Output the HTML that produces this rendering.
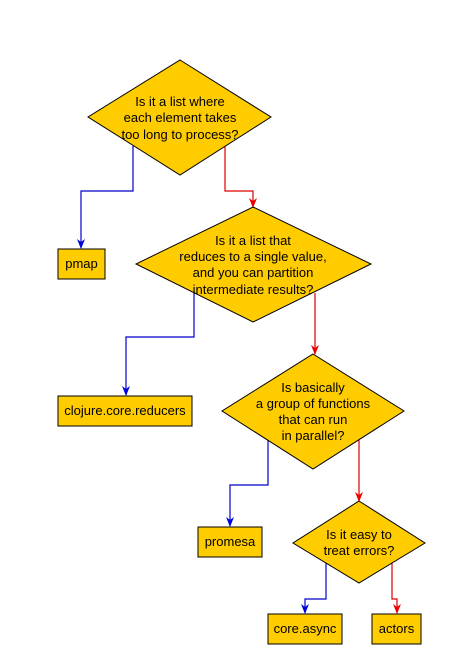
<!DOCTYPE html>
<html><head><style>html,body{margin:0;padding:0;background:#fff;width:475px;height:669px;overflow:hidden}</style></head>
<body>
<svg width="475" height="669" xmlns="http://www.w3.org/2000/svg" font-family="Liberation Sans, DejaVu Sans, sans-serif" font-size="13" text-anchor="middle">
<defs>
<marker id="b" markerWidth="8" markerHeight="10" refX="4" refY="9" markerUnits="userSpaceOnUse" viewBox="0 0 8 10"><path d="M0,0 L4,3 L8,0 L4,10 Z" fill="#0000dd"/></marker>
<marker id="r" markerWidth="8" markerHeight="10" refX="4" refY="9" markerUnits="userSpaceOnUse" viewBox="0 0 8 10"><path d="M0,0 L4,3 L8,0 L4,10 Z" fill="#ee0000"/></marker>
</defs>
<g fill="none" stroke-width="1.2">
<path d="M133,146 V191 H81 V248" stroke="#0000cc" marker-end="url(#b)"/>
<path d="M225,146 V191 H253 V207" stroke="#dd0000" marker-end="url(#r)"/>
<path d="M194,293 V337 H126 V395" stroke="#0000cc" marker-end="url(#b)"/>
<path d="M315,293 V354" stroke="#dd0000" marker-end="url(#r)"/>
<path d="M268,440 V485 H230 V526" stroke="#0000cc" marker-end="url(#b)"/>
<path d="M359,440 V501" stroke="#dd0000" marker-end="url(#r)"/>
<path d="M326,563 V599 H305 V613" stroke="#0000cc" marker-end="url(#b)"/>
<path d="M392,563 V599 H397 V613" stroke="#dd0000" marker-end="url(#r)"/>
</g>
<g fill="#ffcc00" stroke="#000" stroke-width="1">
<polygon points="180,60 271,117 180,175 88,117"/>
<polygon points="253,207 371,264 253,322 136,264"/>
<polygon points="313,354 404,411 313,469 222,411"/>
<polygon points="359,501 425,543 359,583 293,543"/>
<rect x="58" y="249" width="47" height="30"/>
<rect x="58" y="396" width="134" height="30"/>
<rect x="198" y="527" width="64" height="30"/>
<rect x="268" y="614" width="74" height="30"/>
<rect x="372" y="614" width="49" height="30"/>
</g>
<g fill="#000">
<text x="180" y="106">Is it a list where</text>
<text x="180" y="122">each element takes</text>
<text x="180" y="139">too long to process?</text>
<text x="253" y="245">Is it a list that</text>
<text x="253" y="261">reduces to a single value,</text>
<text x="253" y="277">and you can partition</text>
<text x="253" y="294">intermediate results?</text>
<text x="313" y="392">Is basically</text>
<text x="313" y="408">a group of functions</text>
<text x="313" y="424">that can run</text>
<text x="313" y="440">in parallel?</text>
<text x="359" y="539">Is it easy to</text>
<text x="359" y="555">treat errors?</text>
<text x="81.5" y="268">pmap</text>
<text x="125" y="415">clojure.core.reducers</text>
<text x="230" y="546">promesa</text>
<text x="305" y="633">core.async</text>
<text x="396.5" y="633">actors</text>
</g>
</svg>
</body></html>
